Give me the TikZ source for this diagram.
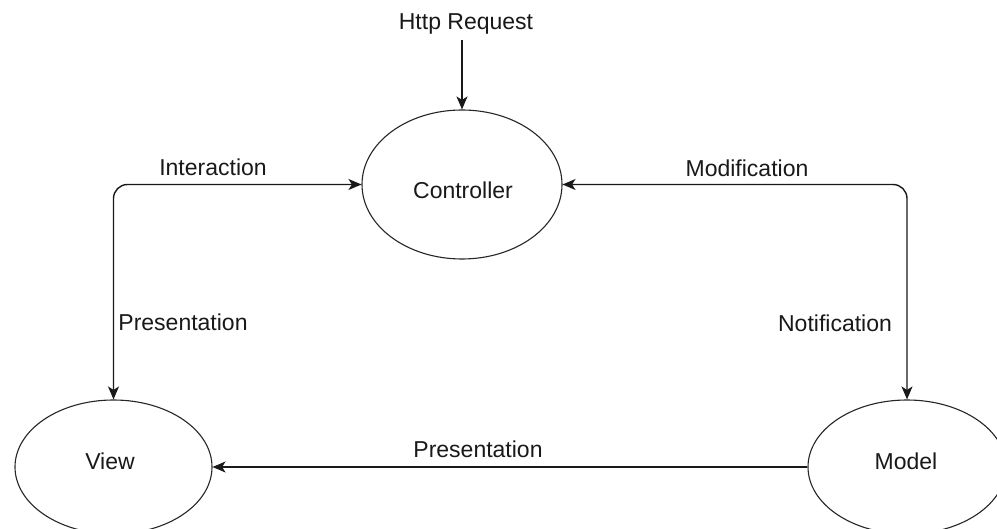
\documentclass[tikz,border=0pt]{standalone}
\usepackage{fontspec}
\setmainfont{Liberation Sans}
\usetikzlibrary{shapes.geometric,arrows.meta}
\tikzset{
  tip/.tip={Stealth[length=13pt,width=11pt,inset=3.5pt]},
  blob/.style={ellipse, draw=black!85, line width=1.1pt, inner sep=0pt, fill=white},
  lbl/.style={anchor=base, inner sep=0pt, text=black!90, font=\fontsize{23}{27}\selectfont},
  conn/.style={draw=black!90, line width=1.4pt, -tip},
  both/.style={draw=black!90, line width=1.4pt, tip-tip, rounded corners=14pt}
}
\begin{document}
\begin{tikzpicture}[x=1pt,y=-1pt]
\useasboundingbox (0,0) rectangle (997,529);
\fill[white] (0,0) rectangle (997,529);
\clip (0,0) rectangle (997,529);
% ellipses
\node[blob, minimum width=200pt, minimum height=149pt] (ctrl) at (462,184.5) {};
\node[blob, minimum width=197pt, minimum height=134pt] (view) at (113.5,467) {};
\node[blob, minimum width=198pt, minimum height=134pt] (model) at (907,467) {};
% node texts
\node[lbl] (ctrltxt) at (463,199) {Controller};
\node[lbl] (viewtxt) at (110,470) {View};
\node[lbl] (modeltxt) at (906,470) {Model};
% edge labels
\node[lbl] (http) at (466,30) {Http Request};
\node[lbl] (inter) at (213,176) {Interaction};
\node[lbl] (modif) at (747,177) {Modification};
\node[lbl] (presl) at (183,331) {Presentation};
\node[lbl] (notif) at (835,332) {Notification};
\node[lbl] (presb) at (478,457) {Presentation};
% connectors
\coordinate (hs) at (462,40);
\draw[conn] (hs) -- (ctrl.north);
\draw[both] (view.north) |- (ctrl.west);
\draw[both] (ctrl.east) -| (model.north);
\draw[conn] (model.west) -- (view.east);
\end{tikzpicture}
\end{document}
